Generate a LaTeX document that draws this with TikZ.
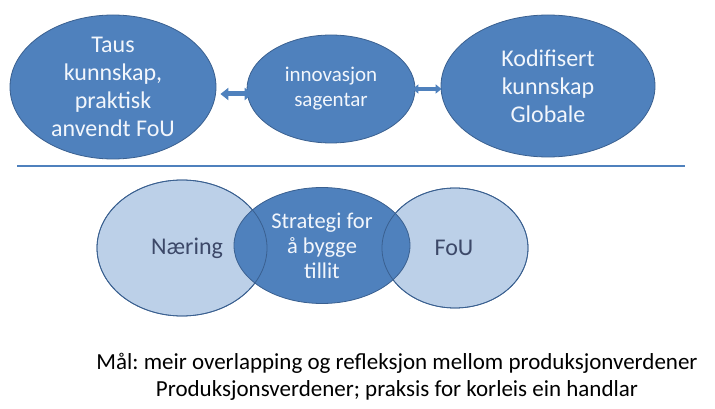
\documentclass[tikz,border=0pt]{standalone}
\usepackage{fontspec}
\setmainfont{Carlito}
\usetikzlibrary{shapes.geometric,arrows.meta}
\definecolor{dblue}{HTML}{4F81BD}
\definecolor{dline}{HTML}{3A6090}
\definecolor{lblue}{HTML}{BCD0E8}
\definecolor{ltext}{HTML}{3C4868}
\definecolor{wtext}{HTML}{F2F6FC}
\tikzset{
  darkell/.style={ellipse, fill=dblue, draw=dline, line width=0.8pt, inner sep=0pt, text=wtext, align=center},
  lightell/.style={ellipse, fill=lblue, draw=dline, line width=0.8pt, inner sep=0pt, text=ltext, align=center},
  bigtxt/.style={font=\fontsize{24}{28}\selectfont},
  midtxt/.style={font=\fontsize{21}{25}\selectfont},
  strattxt/.style={font=\fontsize{22.5}{25}\selectfont},
  dblarrow/.style={draw=dblue, line width=5pt, {Triangle[length=8pt,width=12pt]}-{Triangle[length=8pt,width=12pt]}},
  thinarrow/.style={draw=dblue, line width=4pt, {Triangle[length=6pt,width=9pt]}-{Triangle[length=6pt,width=9pt]}},
  goaltxt/.style={font=\fontsize{23}{27}\selectfont, text=black}
}
\begin{document}
\frenchspacing
\begin{tikzpicture}[x=1pt,y=-1pt]
\useasboundingbox (0,0) rectangle (715,409);
% top row
\node[darkell, bigtxt, minimum width=206pt, minimum height=144pt] (taus) at (113,87) {Taus\\kunnskap,\\praktisk\\anvendt FoU};
\node[darkell, midtxt, minimum width=168pt, minimum height=108pt] (innov) at (331,89) {innovasjon\\sagentar};
\node[darkell, bigtxt, minimum width=214pt, minimum height=142pt] (kodif) at (548,86) {Kodifisert\\kunnskap\\Globale};
\draw[dblarrow] ([xshift=4pt,yshift=-7pt]taus.east) -- ([xshift=6pt,yshift=-5pt]innov.west);
\draw[thinarrow] ([xshift=-3pt]innov.east) -- ([xshift=1pt,yshift=-3pt]kodif.west);
% separator
\coordinate (lineL) at (17,166);
\coordinate (lineR) at (685,166);
\draw[dblue, line width=1.3pt] (lineL) -- (lineR);
% bottom row
\node[lightell, bigtxt, minimum width=170pt, minimum height=136pt] (naering) at (182,248) {\hspace*{10pt}Næring};
\node[lightell, bigtxt, minimum width=146pt, minimum height=120pt] (fou) at (455,248) {FoU\hspace*{2pt}};
\node[darkell, strattxt, minimum width=176pt, minimum height=116pt] (strat) at (322,245.5) {Strategi for\\å bygge\\tillit};
\draw[dline, line width=0.8pt] (naering.center) ellipse [x radius=85pt, y radius=68pt];
\draw[dline, line width=0.8pt] (fou.center) ellipse [x radius=73pt, y radius=60pt];
% goal text
\node[goaltxt] (goal1) at (397,363) {Mål: meir overlapping og refleksjon mellom produksjonverdener};
\node[goaltxt] (goal2) at (397,390) {Produksjonsverdener; praksis for korleis ein handlar};
\end{tikzpicture}
\end{document}
